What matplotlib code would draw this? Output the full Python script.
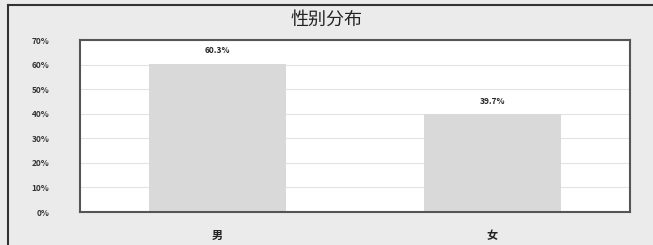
import matplotlib
matplotlib.use("Agg")
import matplotlib.pyplot as plt
from matplotlib.lines import Line2D
from matplotlib.ticker import FuncFormatter

plt.rcParams['font.family'] = ['Noto Sans CJK SC', 'DejaVu Sans']

categories = ['男', '女']
shares = [60.3, 39.7]
title = '性别分布'

fig = plt.figure(figsize=(6.53, 2.45), dpi=100)
fig.patch.set_facecolor('#ebebeb')

# outer frame (left + top)
fig.add_artist(Line2D([8/653, 8/653], [0, 1 - 5/245], color='#333333', lw=1.5))
fig.add_artist(Line2D([8/653, 1], [1 - 5/245, 1 - 5/245], color='#333333', lw=1.5))

ax = fig.add_axes([80/653, 33/245, 550/653, 172/245])
ax.set_facecolor('white')
x = range(len(categories))
bars = ax.bar(x, shares, width=0.5, color='#d9d9d9', zorder=2)
for b, v in zip(bars, shares):
    ax.text(b.get_x() + b.get_width()/2, v + 3.5, f'{v:.1f}%', ha='center', va='bottom',
            fontsize=6, fontweight='bold', color='#222222')

ax.set_xlim(-0.5, 1.5)
ax.set_ylim(0, 70)
ax.set_yticks(range(0, 71, 10))
ax.yaxis.set_major_formatter(FuncFormatter(lambda v, p: f'{v:.0f}%'))
ax.set_xticks(list(x))
ax.set_xticklabels(categories)
ax.grid(axis='y', color='#e3e3e3', lw=0.8, zorder=0)
ax.tick_params(axis='y', length=0, pad=22, labelsize=6, labelcolor='#333333')
ax.tick_params(axis='x', length=0, pad=12, labelsize=8, labelcolor='#222222')
for lbl in ax.get_yticklabels() + ax.get_xticklabels():
    lbl.set_fontweight('bold')
for s in ax.spines.values():
    s.set_color('#555555')
    s.set_linewidth(1.5)

fig.text(0.5, 1 - 20/245, title, ha='center', va='center', fontsize=13, color='#222222')

plt.savefig('out.png', dpi=100, facecolor=fig.get_facecolor())
